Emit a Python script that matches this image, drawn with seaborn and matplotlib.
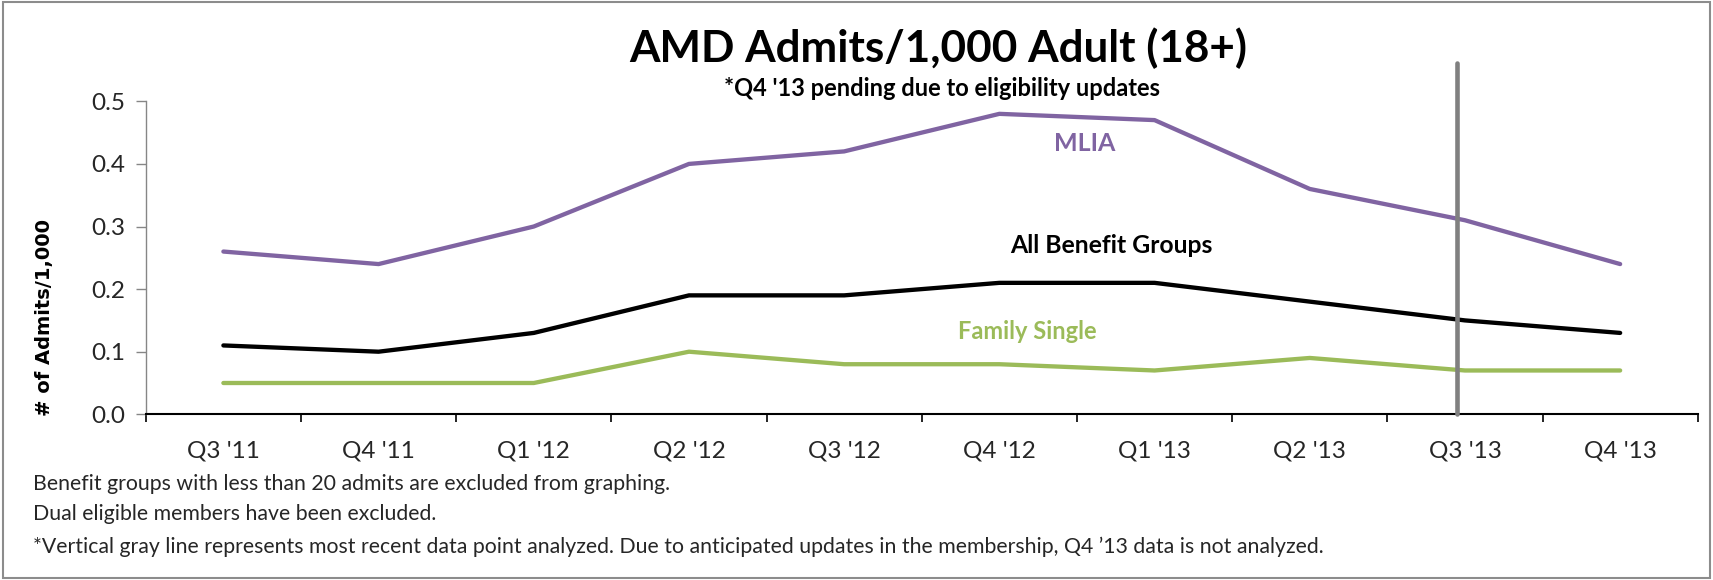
import pandas as pd
import matplotlib.pyplot as plt
import matplotlib.patches as patches
import seaborn as sb

# Data
quarters = ["Q3 '11", "Q4 '11", "Q1 '12", "Q2 '12", "Q3 '12",
            "Q4 '12", "Q1 '13", "Q2 '13", "Q3 '13", "Q4 '13"]
mlia = [0.26, 0.24, 0.30, 0.40, 0.42, 0.48, 0.47, 0.36, 0.31, 0.24]
all_groups = [0.11, 0.10, 0.13, 0.19, 0.19, 0.21, 0.21, 0.18, 0.15, 0.13]
family_single = [0.05, 0.05, 0.05, 0.10, 0.08, 0.08, 0.07, 0.09, 0.07, 0.07]
series_names = ['MLIA', 'All Benefit Groups', 'Family Single']
y_ticks = [0.0, 0.1, 0.2, 0.3, 0.4, 0.5]
y_labels = ['0.0', '0.1', '0.2', '0.3', '0.4', '0.5']
last_analyzed = 7.95  # vertical gray line, just left of Q3 '13

colours = {'MLIA': '#8064A2', 'All Benefit Groups': '#000000', 'Family Single': '#9BBB59'}
font_colour = '#262626'

df = pd.DataFrame({
    'Quarter': quarters * 3,
    'Rate': mlia + all_groups + family_single,
    'Group': [n for n in series_names for _ in quarters],
})

sb.set_style('white')
plt.rcParams['font.family'] = ['Lato', 'DejaVu Sans']

fig = plt.figure(figsize=(17.13, 5.8), dpi=100)
ax = fig.add_axes([0.0851, 0.2857, 0.9060, 0.5396])

sb.lineplot(data=df, x='Quarter', y='Rate', hue='Group', palette=colours,
            sort=False, linewidth=3.1, legend=False, ax=ax)
for ln in ax.lines:
    ln.set_solid_capstyle('round')

ax.set_xlim(-0.5, len(quarters) - 0.5)
ax.set_ylim(0, 0.5)
ax.axvline(last_analyzed, ymin=0, ymax=1.123, color='#808080', linewidth=3.3,
           clip_on=False, zorder=5)

# axes styling, Excel look
for s in ['top', 'right']:
    ax.spines[s].set_visible(False)
ax.spines['left'].set_color('#868686')
ax.spines['left'].set_linewidth(1)
ax.spines['bottom'].set_color('#000000')
ax.spines['bottom'].set_linewidth(1.5)

ax.set_yticks(y_ticks)
ax.set_yticklabels(y_labels)
ax.set_xticks(range(len(quarters)))
ax.set_xticklabels(quarters)
ax.set_xticks([i - 0.5 for i in range(len(quarters) + 1)], minor=True)
ax.tick_params(axis='y', which='major', left=True, length=7, width=1, color='#868686',
               direction='out', pad=8, labelsize=17.5, labelcolor=font_colour)
ax.tick_params(axis='x', which='major', bottom=False, length=0, pad=19,
               labelsize=17.5, labelcolor=font_colour)
ax.tick_params(axis='x', which='minor', bottom=True, length=6, width=1.2,
               color='#000000', direction='out')
ax.set_xlabel('')
ax.set_ylabel('')

# inline series labels
ax.text(5.55, 0.432, 'MLIA', color=colours['MLIA'], fontsize=18,
        fontweight='bold', ha='center', va='center')
ax.text(5.72, 0.270, 'All Benefit Groups', color=colours['All Benefit Groups'],
        fontsize=17.8, fontweight='bold', ha='center', va='center')
ax.text(5.18, 0.133, 'Family Single', color=colours['Family Single'], fontsize=17,
        fontweight='bold', ha='center', va='center')

# titles
fig.text(0.5476, 0.917, 'AMD Admits/1,000 Adult (18+)', fontsize=31.7,
         fontweight='bold', color='#000000', ha='center', va='center')
fig.text(0.550, 0.848, "*Q4 '13 pending due to eligibility updates", fontsize=17,
         fontweight='bold', color='#000000', ha='center', va='center')
fig.text(0.0257, 0.452, '# of Admits/1,000', fontsize=14, fontweight='bold',
         family='DejaVu Sans', rotation=90, ha='center', va='center', color='#000000')

# footnotes
notes = ['Benefit groups with less than 20 admits are excluded from graphing.',
         'Dual eligible members have been excluded.',
         '*Vertical gray line represents most recent data point analyzed. Due to anticipated '
         'updates in the membership, Q4 \u201913 data is not analyzed.']
for note, yy in zip(notes, [0.165, 0.114, 0.058]):
    fig.text(0.0193, yy, note, fontsize=15.3, color=font_colour, ha='left', va='center')

# outer chart border
fig.patches.append(patches.Rectangle((0.002, 0.004), 0.996, 0.992, transform=fig.transFigure,
                                     fill=False, edgecolor='#8c8c8c', linewidth=1.5))

plt.savefig('out.png', dpi=100)
